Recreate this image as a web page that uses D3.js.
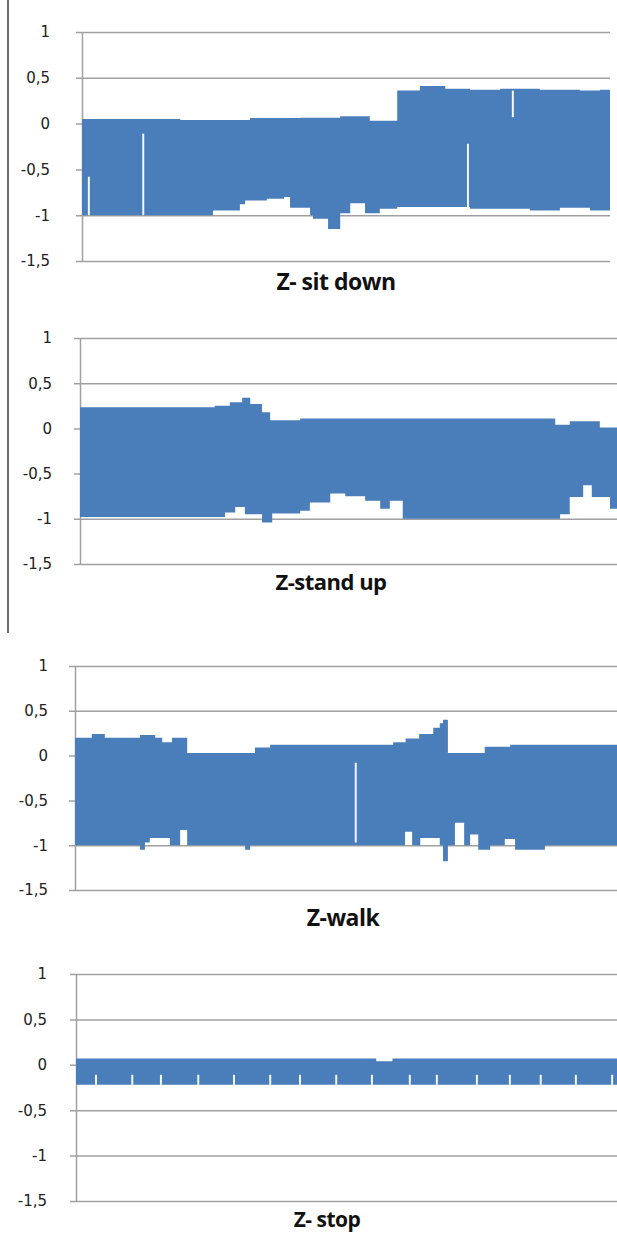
<!DOCTYPE html>
<html>
<head>
<meta charset="utf-8">
<script src="https://cdn.jsdelivr.net/npm/d3@7"></script>
<style>
  body { margin: 0; background: #fff; }
  svg { display: block; }
</style>
</head>
<body>
<svg id="vis-pane" width="617" height="1234"></svg>
<script>

// y axis of every panel
var yTicks = [1, 0.5, 0, -0.5, -1, -1.5];
var yTickLabels = ["1", "0,5", "0", "-0,5", "-1", "-1,5"];
var titles = ["Z- sit down", "Z-stand up", "Z-walk", "Z- stop"];

// envelopes of the Z signal, t = % of the recording
var sitHiT = [0, 18.6, 31.8, 41.3, 48.9, 54.5, 59.7, 64, 68.8, 73.5, 79.2, 86.7, 94.3, 98.1];
var sitHi  = [0.05, 0.04, 0.06, 0.065, 0.08, 0.03, 0.36, 0.41, 0.38, 0.37, 0.38, 0.37, 0.36, 0.37];
var sitLoT = [0, 24.8, 29.9, 30.9, 35, 38.3, 39.4, 43.2, 43.75, 46.6, 48.9, 50.8, 53.6, 56.4, 59.7, 73.5, 84.8, 90.5, 96.2];
var sitLo  = [-1, -0.95, -0.88, -0.84, -0.82, -0.8, -0.92, -1.0, -1.04, -1.15, -0.98, -0.87, -0.98, -0.93, -0.91, -0.93, -0.95, -0.92, -0.95];
var sitGapT = [1.3, 11.6, 73.1, 81.6];
var sitGapTop = [-0.58, -0.11, -0.22, 0.36];
var sitGapBottom = [-1, -1, -0.93, 0.07];

var standHiT = [0, 25.1, 27.9, 30.2, 31.7, 33.9, 35.4, 41, 85.7, 88.5, 91.2, 96.8];
var standHi  = [0.235, 0.25, 0.29, 0.34, 0.27, 0.18, 0.09, 0.11, 0.11, 0.04, 0.08, 0.01];
var standLoT = [0, 27, 28.9, 30.7, 33.9, 35.8, 41, 42.8, 46.6, 49.4, 53.1, 55.9, 57.7, 60.1, 89.4, 91.2, 93.7, 95.3, 98.7];
var standLo  = [-0.98, -0.93, -0.87, -0.95, -1.04, -0.94, -0.91, -0.82, -0.72, -0.75, -0.8, -0.89, -0.8, -1.0, -0.95, -0.76, -0.63, -0.76, -0.89];
var standGapT = [];
var standGapTop = [];
var standGapBottom = [];

var walkHiT = [0, 3.1, 5.5, 12, 14.8, 16.1, 17.9, 20.7, 33.2, 36, 58.7, 61, 63.5, 66.1, 67.3, 67.9, 68.8, 75.6, 80.3];
var walkHi  = [0.2, 0.24, 0.2, 0.23, 0.2, 0.15, 0.2, 0.03, 0.09, 0.12, 0.15, 0.19, 0.24, 0.31, 0.36, 0.4, 0.03, 0.1, 0.12];
var walkLoT = [0, 12, 12.9, 13.8, 17.5, 19.4, 20.7, 31.4, 32.3, 60.9, 62.2, 63.7, 67.3, 67.9, 68.8, 70.1, 71.8, 72.9, 74.4, 76.6, 79.3, 81.2, 86.7];
var walkLo  = [-1, -1.05, -0.97, -0.92, -1, -0.83, -1, -1.05, -1, -0.85, -1, -0.92, -1, -1.18, -1, -0.75, -1, -0.88, -1.05, -1, -0.93, -1.05, -1];
var walkGapT = [51.8];
var walkGapTop = [-0.08];
var walkGapBottom = [-0.97];

var stopHiT = [0, 55.5, 58.5];
var stopHi  = [0.07, 0.04, 0.07];
var stopLoT = [0];
var stopLo  = [-0.22];
var stopGapT = [3.7, 10.4, 15.7, 22.6, 29.2, 35.9, 41.4, 48.1, 54.7, 61.7, 66.7, 74.1, 80.2, 85.9, 92.4, 99.1];
var stopGapTop = [-0.11, -0.11, -0.11, -0.11, -0.11, -0.11, -0.11, -0.11, -0.11, -0.11, -0.11, -0.11, -0.11, -0.11, -0.11, -0.11];
var stopGapBottom = [-0.22, -0.22, -0.22, -0.22, -0.22, -0.22, -0.22, -0.22, -0.22, -0.22, -0.22, -0.22, -0.22, -0.22, -0.22, -0.22];

var series = [
    {hiT: sitHiT, hi: sitHi, loT: sitLoT, lo: sitLo, gT: sitGapT, gTop: sitGapTop, gBot: sitGapBottom},
    {hiT: standHiT, hi: standHi, loT: standLoT, lo: standLo, gT: standGapT, gTop: standGapTop, gBot: standGapBottom},
    {hiT: walkHiT, hi: walkHi, loT: walkLoT, lo: walkLo, gT: walkGapT, gTop: walkGapTop, gBot: walkGapBottom},
    {hiT: stopHiT, hi: stopHi, loT: stopLoT, lo: stopLo, gT: stopGapT, gTop: stopGapTop, gBot: stopGapBottom}];

// where each panel sits on the page (the four come from different screenshots)
var layout = [
    {left: 82, right: 610, top: 32, bottom: 261, pad: 32, tx: 336, ty: 290, fs: 23},
    {left: 80, right: 617, top: 338, bottom: 564, pad: 28, tx: 331, ty: 590, fs: 22},
    {left: 75, right: 617, top: 666, bottom: 890, pad: 27, tx: 343, ty: 926, fs: 23},
    {left: 76, right: 617, top: 974, bottom: 1201, pad: 29, tx: 327, ty: 1227, fs: 21}];

var blue = "#4a7ebb";
var gridColor = "#a0a0a0";

var stepAt = function(ts, vs, t) {
    var i = d3.bisectRight(ts, t) - 1;
    return vs[Math.max(i, 0)];
};

var svg = d3.select("#vis-pane");

// frame line at the far left of the upper half
svg.append("line")
    .attr("x1", 8).attr("x2", 8)
    .attr("y1", 0).attr("y2", 633)
    .attr("stroke", "#3a3a3a")
    .attr("stroke-width", 1.5);

series.forEach(function(s, k) {
    var L = layout[k];
    var x = d3.scaleLinear().domain([0, 100]).range([L.left, L.right]);
    var y = d3.scaleLinear().domain([-1.5, 1]).range([L.bottom, L.top]);
    var g = svg.append("g");

    var axis = d3.axisLeft(y)
        .tickValues(yTicks)
        .tickFormat(function(d, i) { return yTickLabels[i]; })
        .tickSize(-(L.right - L.left))
        .tickSizeOuter(0)
        .tickPadding(L.pad);

    var ax = g.append("g")
        .attr("transform", "translate(" + L.left + ",0)")
        .call(axis);
    ax.attr("font-size", null);
    ax.select(".domain").attr("stroke", gridColor).attr("stroke-width", 1.5);
    ax.selectAll(".tick line")
        .attr("x1", -6)
        .attr("stroke", gridColor)
        .attr("stroke-width", 1.5);
    ax.selectAll(".tick text")
        .attr("font-family", "DejaVu Sans, sans-serif")
        .style("font-size", "15px")
        .attr("fill", "#222");

    // merge the breakpoints of both envelopes
    var ts = Array.from(new Set(s.hiT.concat(s.loT).concat([100]))).sort(function(a, b) { return a - b; });
    var env = ts.map(function(t) {
        return {t: t, hi: stepAt(s.hiT, s.hi, t), lo: stepAt(s.loT, s.lo, t)};
    });

    var area = d3.area()
        .curve(d3.curveStepAfter)
        .x(function(d) { return x(d.t); })
        .y0(function(d) { return y(d.lo); })
        .y1(function(d) { return y(d.hi); });

    g.append("path")
        .datum(env)
        .attr("d", area)
        .attr("fill", blue);

    // short drop-outs that show as white slits
    g.selectAll(".gap")
        .data(s.gT)
        .enter().append("line")
        .attr("class", "gap")
        .attr("x1", function(d) { return x(d); })
        .attr("x2", function(d) { return x(d); })
        .attr("y1", function(d, i) { return y(s.gTop[i]); })
        .attr("y2", function(d, i) { return y(s.gBot[i]); })
        .attr("stroke", "#f2f7fd")
        .attr("stroke-width", 2);

    g.append("text")
        .attr("x", L.tx)
        .attr("y", L.ty)
        .attr("text-anchor", "middle")
        .attr("font-family", "Open Sans, sans-serif")
        .attr("font-weight", "bold")
        .attr("font-size", L.fs)
        .attr("letter-spacing", -0.5)
        .attr("fill", "#111")
        .text(titles[k]);
});

</script>
</body>
</html>
